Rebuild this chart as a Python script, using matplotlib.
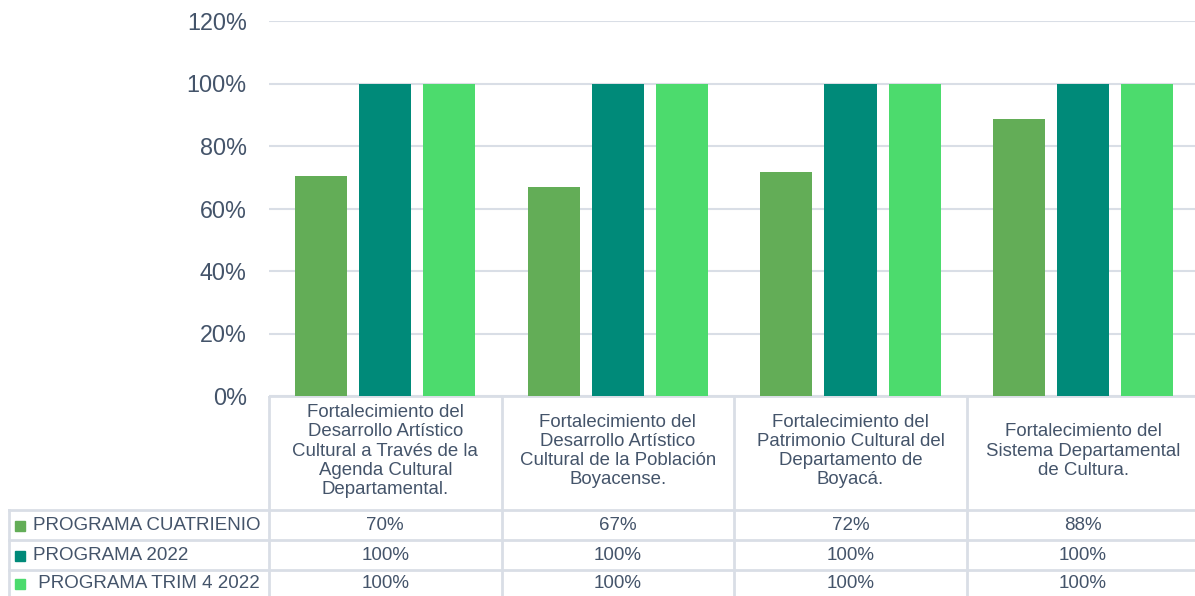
import matplotlib
matplotlib.use("Agg")
import matplotlib.pyplot as plt
from matplotlib.patches import Rectangle

plt.rcParams["font.family"] = ["Liberation Sans", "DejaVu Sans"]

# data
categories = [
    "Fortalecimiento del\nDesarrollo Artístico\nCultural a Través de la\nAgenda Cultural\nDepartamental.",
    "Fortalecimiento del\nDesarrollo Artístico\nCultural de la Población\nBoyacense.",
    "Fortalecimiento del\nPatrimonio Cultural del\nDepartamento de\nBoyacá.",
    "Fortalecimiento del\nSistema Departamental\nde Cultura.",
]
series_names = ["PROGRAMA CUATRIENIO", "PROGRAMA 2022", " PROGRAMA TRIM 4 2022"]
cuatrienio = [0.704, 0.669, 0.717, 0.886]
prog_2022 = [1.0, 1.0, 1.0, 1.0]
trim4_2022 = [1.0, 1.0, 1.0, 1.0]
table_labels = [
    ["70%", "67%", "72%", "88%"],
    ["100%", "100%", "100%", "100%"],
    ["100%", "100%", "100%", "100%"],
]
yticks = [0, 0.2, 0.4, 0.6, 0.8, 1.0, 1.2]
ytick_labels = ["0%", "20%", "40%", "60%", "80%", "100%", "120%"]

COLORS = ["#63AD57", "#008A79", "#4CDB6D"]
TEXT = "#44546A"
GRID = "#D9DEE6"

W, H = 1195, 596
CAT = 232.6          # pixel width of one category
X0 = 269             # left edge of plot area
fig = plt.figure(figsize=(W / 100, H / 100), dpi=100)

# main bar axes (right edge runs slightly past the image, as in the source)
ax = fig.add_axes([X0 / W, (H - 396) / H, 4 * CAT / W, (396 - 21) / H])
series = [cuatrienio, prog_2022, trim4_2022]
bw = 0.2236
step = 0.2755
for i, vals in enumerate(series):
    xs = [c + (i - 1) * step for c in range(len(vals))]
    ax.bar(xs, vals, width=bw, color=COLORS[i], zorder=2)

ax.set_xlim(-0.5, 3.5)
ax.set_ylim(0, 1.2)
ax.set_yticks(yticks)
ax.set_yticklabels(ytick_labels, fontsize=16.8, color=TEXT)
ax.set_xticks([])
ax.tick_params(axis="y", length=0, pad=16)
ax.grid(axis="y", color=GRID, linewidth=1.5, zorder=0)
for s in ax.spines.values():
    s.set_visible(False)

# data table below
tab = fig.add_axes([8 / W, 0, (X0 - 8 + 4 * CAT) / W, 200 / H])
left = -0.5 - (X0 - 8) / CAT
tab.set_xlim(left, 3.5)
tab.set_ylim(200, 0)
tab.axis("off")

row_edges = [0, 114, 144, 174, 200]
lw = 2
tab.plot([-0.5, 3.5], [0, 0], color=GRID, lw=lw)
for y in row_edges[1:4]:
    tab.plot([left, 3.5], [y, y], color=GRID, lw=lw)
tab.plot([left + 0.004, left + 0.004], [114, 200], color=GRID, lw=lw)
for xv in [-0.5, 0.5, 1.5, 2.5]:
    tab.plot([xv, xv], [0, 200], color=GRID, lw=lw)

# category headers
for c, name in enumerate(categories):
    tab.text(c, 55, name, ha="center", va="center", fontsize=13.4,
             color=TEXT, linespacing=1.16)

# row labels with legend keys
for r, name in enumerate(series_names):
    yc = (row_edges[r + 1] + row_edges[r + 2]) / 2 + 1
    tab.add_patch(Rectangle((left + 7 / CAT, yc - 5), 10 / CAT, 10,
                            color=COLORS[r]))
    tab.text(left + 25 / CAT, yc, name, ha="left", va="center",
             fontsize=13.5, color=TEXT)
    for c, lab in enumerate(table_labels[r]):
        tab.text(c, yc, lab, ha="center", va="center", fontsize=13.5,
                 color=TEXT)

fig.savefig("out.png", dpi=100)
